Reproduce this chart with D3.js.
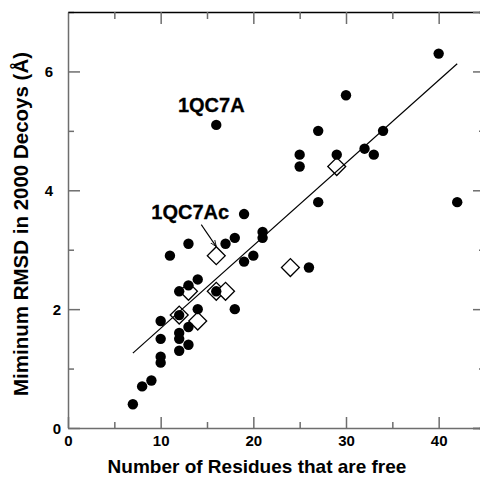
<!DOCTYPE html>
<html>
<head>
<meta charset="utf-8">
<script src="https://cdn.jsdelivr.net/npm/d3@7"></script>
<style>
	body { margin: 0; background: #fff; }
	svg text { font-family: "Liberation Sans", Arial, sans-serif; font-weight: bold; fill: #000; }
</style>
</head>
<body>
<svg id="chart"></svg>
<script>
// filled circles: residues free vs min RMSD
var dotX = [7, 8, 9, 10, 10, 10, 10, 11, 12, 12, 12, 12, 12, 13, 13, 13, 13, 14, 14, 16, 16,
	17, 18, 18, 19, 19, 20, 21, 21, 25, 25, 26, 27, 27, 29, 30, 32, 33, 34, 40, 42];
var dotY = [0.4, 0.7, 0.8, 1.1, 1.2, 1.5, 1.8, 2.9, 1.3, 1.5, 1.6, 1.9, 2.3, 1.4, 1.7, 2.4, 3.1, 2.0, 2.5, 2.3, 5.1,
	3.1, 2.0, 3.2, 2.8, 3.6, 2.9, 3.2, 3.3, 4.4, 4.6, 2.7, 3.8, 5.0, 4.6, 5.6, 4.7, 4.6, 5.0, 6.3, 3.8];
// open diamonds
var diamondX = [12, 13, 14, 16, 16, 17, 24, 29];
var diamondY = [1.9, 2.3, 1.8, 2.3, 2.9, 2.3, 2.7, 4.4];
// fitted line end points
var fitX = [7, 42];
var fitY = [1.26, 6.13];
// labelled points
var labelNames = ["1QC7A", "1QC7Ac"];
var labelX = [16, 16];
var labelY = [5.1, 2.9];

var xTicks = [0, 10, 20, 30, 40];
var xMinor = [5, 15, 25, 35, 45];
var yTicks = [0, 2, 4, 6];
var yMinor = [1, 3, 5, 7];

var width = 480, height = 484;
var margin = { "top": 12, "right": -5, "bottom": 56, "left": 68 };
var axisGrey = "#6e6e6e";

var svg = d3.select("#chart")
	.attr("width", width)
	.attr("height", height);

var x = d3.scaleLinear().domain([0, 45]).range([margin.left, width - margin.right]);
var y = d3.scaleLinear().domain([0, 7]).range([height - margin.bottom, margin.top]);

// axes, ticks point inward
function styleAxis(g) {
	g.select(".domain").attr("stroke", axisGrey).attr("stroke-width", 1.5);
	g.selectAll(".tick line").attr("stroke", axisGrey).attr("stroke-width", 1.5);
	g.selectAll(".tick text").attr("font-size", 15).attr("fill", "#000");
}

var bottomAxis = svg.append("g")
	.attr("transform", "translate(0," + y(0) + ")")
	.call(d3.axisBottom(x).tickValues(xTicks).tickFormat(d3.format("d"))
		.tickSizeInner(-11).tickSizeOuter(0));
styleAxis(bottomAxis);
bottomAxis.selectAll(".tick text").attr("y", 7).attr("dy", "0.71em");

var leftAxis = svg.append("g")
	.attr("transform", "translate(" + x(0) + ",0)")
	.call(d3.axisLeft(y).tickValues(yTicks).tickFormat(d3.format("d"))
		.tickSizeInner(-12).tickSizeOuter(0));
styleAxis(leftAxis);
leftAxis.selectAll(".tick text")
	.attr("x", function(d) { return d >= 4 ? -15 : -7; })
	.attr("dy", "0.36em");

svg.append("g")
	.attr("transform", "translate(0," + y(0) + ")")
	.call(d3.axisBottom(x).tickValues(xMinor).tickSize(-6).tickFormat(""))
	.call(styleAxis)
	.select(".domain").remove();
svg.append("g")
	.attr("transform", "translate(" + x(0) + ",0)")
	.call(d3.axisLeft(y).tickValues(yMinor).tickSize(-6).tickFormat(""))
	.call(styleAxis)
	.select(".domain").remove();

// top frame with hanging ticks
var topAxis = svg.append("g")
	.attr("transform", "translate(0," + y(7) + ")")
	.call(d3.axisTop(x).tickValues(xTicks.slice(1)).tickSizeInner(-12).tickSizeOuter(0).tickFormat(""));
styleAxis(topAxis);
topAxis.select(".domain").attr("stroke", "#000").attr("stroke-width", 1.4);
svg.append("g")
	.attr("transform", "translate(0," + y(7) + ")")
	.call(d3.axisTop(x).tickValues(xMinor).tickSize(-7).tickFormat(""))
	.call(styleAxis)
	.select(".domain").remove();

// right frame (off the edge, only ticks show)
svg.append("g")
	.attr("transform", "translate(" + x(45) + ",0)")
	.call(d3.axisRight(y).tickValues(yTicks).tickSize(-12).tickFormat(""))
	.call(styleAxis);
svg.append("g")
	.attr("transform", "translate(" + x(45) + ",0)")
	.call(d3.axisRight(y).tickValues(yMinor).tickSize(-6).tickFormat(""))
	.call(styleAxis);

// axis titles
svg.append("text")
	.attr("x", 257)
	.attr("y", 473)
	.attr("text-anchor", "middle")
	.attr("font-size", 19)
	.text("Number of Residues that are free");
svg.append("text")
	.attr("transform", "translate(28,224) rotate(-90)")
	.attr("text-anchor", "middle")
	.attr("font-size", 20.5)
	.text("Miminum RMSD in 2000 Decoys (Å)");

var diamond = d3.symbol().type(d3.symbolSquare).size(160);

svg.append("g").selectAll("path")
	.data(diamondX)
	.enter()
	.append("path")
	.attr("d", diamond)
	.attr("transform", function(d, i) { return "translate(" + x(d) + "," + y(diamondY[i]) + ") rotate(45)"; })
	.attr("fill", "#fff")
	.attr("stroke", "#000")
	.attr("stroke-width", 1.3);

var fitline = d3.line()
	.x(function(d) { return x(d); })
	.y(function(d, i) { return y(fitY[i]); });
svg.append("path")
	.datum(fitX)
	.attr("d", fitline)
	.attr("fill", "none")
	.attr("stroke", "#000")
	.attr("stroke-width", 1.2);

svg.append("g").selectAll("circle")
	.data(dotX)
	.enter()
	.append("circle")
	.attr("cx", function(d) { return x(d); })
	.attr("cy", function(d, i) { return y(dotY[i]); })
	.attr("r", 5.2)
	.attr("fill", "#000");

// annotations
var labelOffset = [[-5, -13], [-26, -37]];
svg.append("g").selectAll("text")
	.data(labelNames)
	.enter()
	.append("text")
	.attr("x", function(d, i) { return x(labelX[i]) + labelOffset[i][0]; })
	.attr("y", function(d, i) { return y(labelY[i]) + labelOffset[i][1]; })
	.attr("text-anchor", "middle")
	.attr("font-size", 20)
	.attr("stroke", "#000")
	.attr("stroke-width", 0.3)
	.text(function(d) { return d; });

svg.append("defs").append("marker")
	.attr("id", "arrowhead")
	.attr("viewBox", "0 0 10 10")
	.attr("refX", 10).attr("refY", 5)
	.attr("markerWidth", 6).attr("markerHeight", 6)
	.attr("orient", "auto")
	.append("path")
	.attr("d", "M0,1 L10,5 L0,9")
	.attr("fill", "none")
	.attr("stroke", "#000")
	.attr("stroke-width", 1.2);

svg.append("line")
	.attr("x1", x(labelX[1]) - 15)
	.attr("y1", y(labelY[1]) - 31)
	.attr("x2", x(labelX[1]))
	.attr("y2", y(labelY[1]) - 9)
	.attr("stroke", "#000")
	.attr("stroke-width", 1.1)
	.attr("marker-end", "url(#arrowhead)");
</script>
</body>
</html>
